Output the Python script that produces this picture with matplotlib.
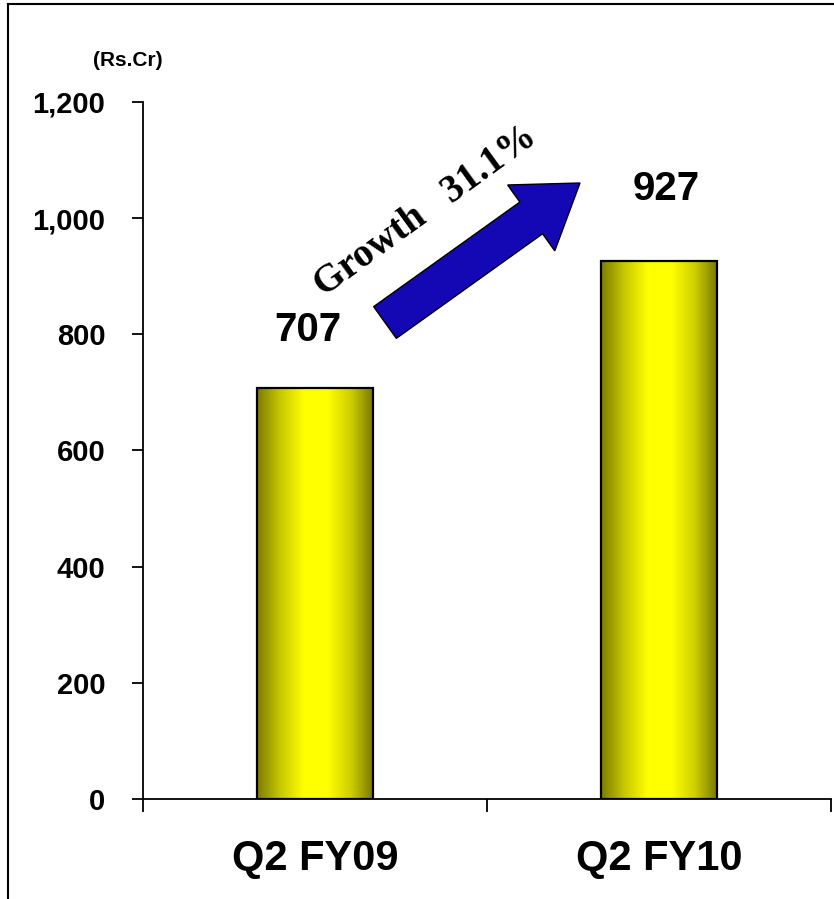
import numpy as np
import matplotlib
matplotlib.use('Agg')
import matplotlib.pyplot as plt
from matplotlib.colors import LinearSegmentedColormap
from matplotlib.patches import FancyArrow
from matplotlib.lines import Line2D
from matplotlib.ticker import FuncFormatter

quarters = ['Q2 FY09', 'Q2 FY10']
sales = [707, 927]
y_ticks = [0, 200, 400, 600, 800, 1000, 1200]
growth_pct = (sales[1] / sales[0] - 1) * 100

plt.rcParams['font.family'] = ['Liberation Sans', 'DejaVu Sans']

W, H = 834, 899
fig = plt.figure(figsize=(W / 100, H / 100), dpi=100)
ax = fig.add_axes([143 / W, 100 / H, 688 / W, 697 / H])

# bars: outline only, the fill is a clipped horizontal gradient
bars = ax.bar(range(len(quarters)), sales, width=0.34, facecolor='none',
              edgecolor='black', linewidth=1.6, zorder=3)
grad = LinearSegmentedColormap.from_list(
    'gold', ['#7c7c00', '#c8c800', '#ffff00', '#ffff00', '#d0d000', '#767600'])
for b in bars:
    x0, w, h = b.get_x(), b.get_width(), b.get_height()
    im = ax.imshow(np.linspace(0, 1, 256).reshape(1, -1), cmap=grad,
                   extent=[x0, x0 + w, 0, h], aspect='auto', zorder=2)
    im.set_clip_path(b)

# value labels above bars
label_offsets = [100, 123]
for i, v in enumerate(sales):
    ax.text(i - 0.02 * (1 - 2 * i), v + label_offsets[i], str(v),
            ha='center', va='center', fontsize=29, fontweight='bold')

ax.set_xlim(-0.5, 1.5)
ax.set_ylim(0, 1200)
ax.set_yticks(y_ticks)
ax.yaxis.set_major_formatter(FuncFormatter(lambda v, p: f'{v:,.0f}'))
ax.set_xticks(range(len(quarters)), quarters)
ax.set_xticks([-0.5, 0.5, 1.5], minor=True)

ax.tick_params(axis='y', length=8, width=1.3, pad=19, labelsize=21)
ax.tick_params(axis='x', which='major', length=0, pad=29, labelsize=30)
ax.tick_params(axis='x', which='minor', length=9, width=1.3)
for lbl in ax.get_xticklabels() + ax.get_yticklabels():
    lbl.set_fontweight('bold')

for s in ['top', 'right']:
    ax.spines[s].set_visible(False)
for s in ['left', 'bottom']:
    ax.spines[s].set_linewidth(1.3)

fig.text(93 / W, 1 - 61 / H, '(Rs.Cr)', ha='left', va='center',
         fontsize=15, fontweight='bold')

# growth arrow (inches, so it keeps its shape)
arrow = FancyArrow(3.85, 5.765, 1.95, 1.395, width=0.39, head_width=0.81,
                   head_length=0.60, length_includes_head=True,
                   facecolor='#1408b4', edgecolor='black', linewidth=1.0,
                   transform=fig.dpi_scale_trans)
fig.add_artist(arrow)
fig.text(426 / W, 1 - 211 / H, f'Growth   {growth_pct:.1f}%', rotation=36,
         rotation_mode='anchor', ha='center', va='center', fontsize=28,
         fontweight='bold', family=['Liberation Serif', 'DejaVu Serif'])

# frame around the slide
fig.add_artist(Line2D([8 / W, 8 / W], [0, 1 - 4 / H], color='black', lw=1.5))
fig.add_artist(Line2D([8 / W, 1], [1 - 4 / H, 1 - 4 / H], color='black', lw=1.5))

fig.savefig('out.png', dpi=100)
